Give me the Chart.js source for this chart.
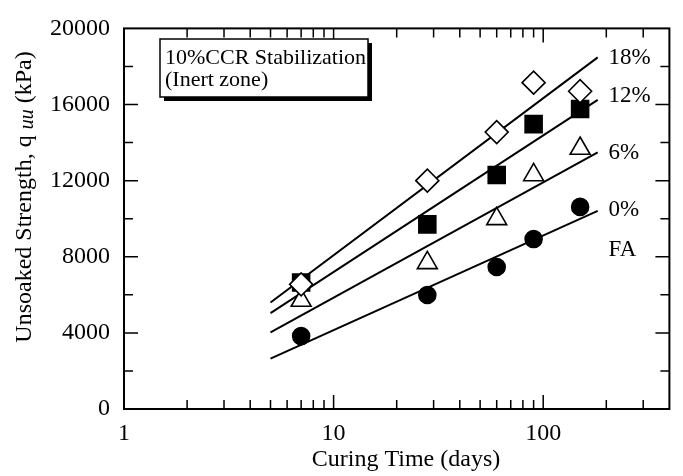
<!DOCTYPE html>
<html lang="en">
<head>
<meta charset="UTF-8">
<title>Unsoaked Strength vs Curing Time</title>
<script src="https://cdn.jsdelivr.net/npm/chart.js@4.4.0/dist/chart.umd.min.js"></script>
<style>
  html, body { margin: 0; padding: 0; background: #fff; }
</style>
</head>
<body>
<canvas id="qu-chart" width="683" height="476"></canvas>
<script>
// curing time (days) and measured strengths (kPa)
var curingDays = [7, 28, 60, 90, 150];
var ccr18 = [6550, 12000, 14550, 17150, 16700];
var ccr12 = [6650, 9700, 12300, 14970, 15760];
var ccr6 = [5700, 7680, 9990, 12300, 13690];
var ccr0 = [3830, 5990, 7460, 8930, 10620];

// fitted lines, read at both ends
var fitDays = [5, 182];
var fit18 = [5600, 18480];
var fit12 = [5040, 16240];
var fit6 = [4030, 13480];
var fit0 = [2650, 10410];

var seriesLabels = ["18%", "12%", "6%", "0%", "FA"];
var seriesLabelY = [18430, 16455, 13470, 10480, 8350];
var seriesLabelX = 205;

var xLabelValues = [1, 10, 100];
var xMajorTicks = [10, 100];
var xMinorTicks = [2, 3, 4, 5, 6, 7, 8, 9, 20, 30, 40, 50, 60, 70, 80, 90, 200, 300];
var yMajorTicks = [4000, 8000, 12000, 16000];
var yMinorTicks = [2000, 6000, 10000, 14000, 18000];

var serif = "'Liberation Serif', 'Times New Roman', serif";

function pts(xs, ys) {
  return xs.map(function (v, i) { return { x: v, y: ys[i] }; });
}

function fitLine(ys) {
  return {
    type: 'line', data: pts(fitDays, ys), borderColor: '#000', borderWidth: 2,
    pointRadius: 0, fill: false, order: 10
  };
}

function markers(ys, style, radius, fillCol, order) {
  return {
    type: 'scatter', data: pts(curingDays, ys), pointStyle: style, pointRadius: radius,
    pointBackgroundColor: fillCol, pointBorderColor: '#000', pointBorderWidth: 1.6,
    showLine: false, order: order
  };
}

// frame + inward ticks on all four sides
var framePlugin = {
  id: 'frame',
  afterDatasetsDraw: function (chart) {
    var ctx = chart.ctx, a = chart.chartArea, x = chart.scales.x, y = chart.scales.y;
    ctx.save();
    ctx.strokeStyle = '#000';
    ctx.lineWidth = 2;
    ctx.strokeRect(a.left, a.top, a.right - a.left, a.bottom - a.top);
    ctx.lineWidth = 1.5;
    ctx.beginPath();
    function xt(v, len) {
      var px = x.getPixelForValue(v);
      ctx.moveTo(px, a.bottom); ctx.lineTo(px, a.bottom - len);
      ctx.moveTo(px, a.top); ctx.lineTo(px, a.top + len);
    }
    function yt(v, len) {
      var py = y.getPixelForValue(v);
      ctx.moveTo(a.left, py); ctx.lineTo(a.left + len, py);
      ctx.moveTo(a.right, py); ctx.lineTo(a.right - len, py);
    }
    xMajorTicks.forEach(function (v) { xt(v, 14); });
    xMinorTicks.forEach(function (v) { xt(v, 9); });
    yMajorTicks.forEach(function (v) { yt(v, 14); });
    yMinorTicks.forEach(function (v) { yt(v, 9); });
    ctx.stroke();

    // annotation box with shadow
    ctx.fillStyle = '#000';
    ctx.fillRect(164, 43, 208, 58);
    ctx.fillStyle = '#fff';
    ctx.fillRect(160, 39, 208, 58);
    ctx.lineWidth = 1.5;
    ctx.strokeRect(160, 39, 208, 58);
    ctx.fillStyle = '#000';
    ctx.font = '22px ' + serif;
    ctx.textAlign = 'left';
    ctx.textBaseline = 'middle';
    ctx.fillText('10%CCR Stabilization', 165, 58);
    ctx.fillText('(Inert zone)', 165, 80);
    ctx.restore();
  },
  afterDraw: function (chart) {
    var ctx = chart.ctx, x = chart.scales.x, y = chart.scales.y;
    ctx.save();
    ctx.fillStyle = '#000';
    ctx.textBaseline = 'middle';
    ctx.textAlign = 'left';
    ctx.font = '23px ' + serif;
    seriesLabels.forEach(function (t, i) {
      ctx.fillText(t, x.getPixelForValue(seriesLabelX), y.getPixelForValue(seriesLabelY[i]));
    });

    // x title
    ctx.font = '24px ' + serif;
    ctx.textAlign = 'center';
    ctx.fillText('Curing Time (days)', 406, 460);

    // y title with italic subscript
    var p1 = 'Unsoaked Strength, q ', p2 = 'uu', p3 = ' (kPa)';
    var f = '24px ' + serif, fi = 'italic 20px ' + serif;
    ctx.translate(25, 197);
    ctx.rotate(-Math.PI / 2);
    ctx.textAlign = 'left';
    ctx.font = f;
    var w1 = ctx.measureText(p1).width, w3 = ctx.measureText(p3).width;
    ctx.font = fi;
    var w2 = ctx.measureText(p2).width;
    var sx = -(w1 + w2 + w3) / 2;
    ctx.font = f; ctx.fillText(p1, sx, 0); sx += w1;
    ctx.font = fi; ctx.fillText(p2, sx, 3); sx += w2;
    ctx.font = f; ctx.fillText(p3, sx, 0);
    ctx.restore();
  }
};

var chart = new Chart('qu-chart', {
  data: {
    datasets: [
      markers(ccr18, 'rectRot', 11.5, '#fff', 0),
      markers(ccr12, 'rect', 12, '#000', 1),
      markers(ccr6, 'triangle', 11.5, '#fff', 2),
      markers(ccr0, 'circle', 8.5, '#000', 3),
      fitLine(fit18),
      fitLine(fit12),
      fitLine(fit6),
      fitLine(fit0)
    ]
  },
  options: {
    responsive: false,
    animation: false,
    layout: { padding: { top: 14, right: 9, left: 0, bottom: 0 } },
    plugins: { legend: { display: false }, tooltip: { enabled: false } },
    scales: {
      x: {
        type: 'logarithmic', min: 1, max: 400,
        grid: { display: false, drawTicks: false },
        border: { display: false },
        afterFit: function (s) { s.height = 67; },
        ticks: {
          autoSkip: false, maxRotation: 0, padding: 10, color: '#000',
          font: { family: serif, size: 24 },
          callback: function (v) { return xLabelValues.indexOf(v) > -1 ? String(v) : ''; }
        }
      },
      y: {
        min: 0, max: 20000,
        grid: { display: false, drawTicks: false },
        border: { display: false },
        afterFit: function (s) { s.width = 124; },
        ticks: {
          stepSize: 4000, padding: 14, color: '#000',
          font: { family: serif, size: 24 },
          callback: function (v) { return String(v); }
        }
      }
    }
  },
  plugins: [framePlugin]
});
</script>
</body>
</html>
